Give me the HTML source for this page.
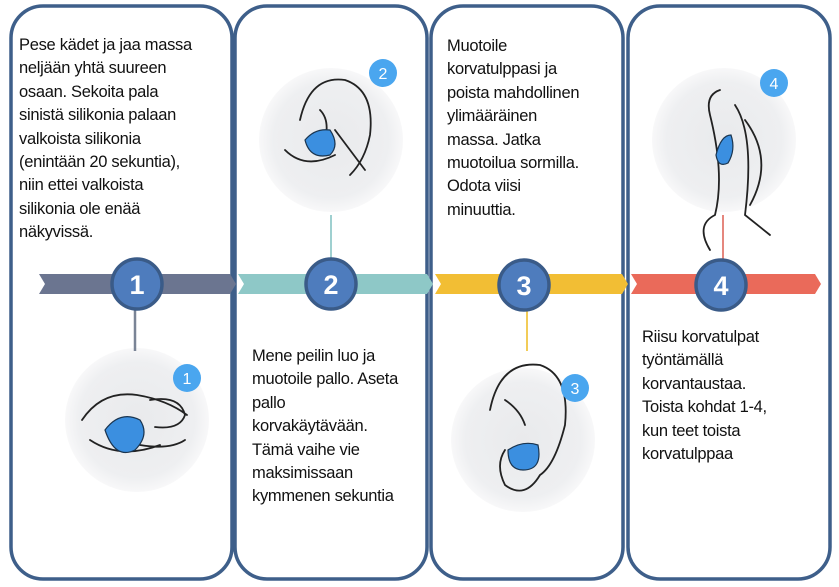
<!DOCTYPE html>
<html><head><meta charset="utf-8"><style>
body{margin:0;background:#fff;width:839px;height:587px;overflow:hidden;position:relative;font-family:"Liberation Sans",sans-serif}
.t{position:absolute;font-size:16.5px;line-height:23.4px;color:#111;letter-spacing:-0.3px;white-space:nowrap}
</style></head><body>
<svg width="839" height="587" style="position:absolute;left:0;top:0">
<defs>
<radialGradient id="g"><stop offset="0" stop-color="#e9eaec"/><stop offset="0.8" stop-color="#eeeff1"/><stop offset="1" stop-color="#f8f8f9"/></radialGradient>
</defs>
<g fill="none" stroke="#3e5f8a" stroke-width="3.5">
<rect x="11" y="6" width="221" height="573" rx="32"/>
<rect x="235" y="6" width="192" height="573" rx="32"/>
<rect x="431" y="6" width="192" height="573" rx="32"/>
<rect x="628" y="6" width="202" height="573" rx="32"/>
</g>
<circle cx="137" cy="420" r="72" fill="url(#g)"/>
<circle cx="331" cy="140" r="72" fill="url(#g)"/>
<circle cx="523" cy="440" r="72" fill="url(#g)"/>
<circle cx="724" cy="140" r="72" fill="url(#g)"/>
<g fill="none" stroke="#222" stroke-width="1.8" stroke-linecap="round">
<path d="M82 420 q20-30 55-25 q30 5 50 20 M90 440 q30 20 70 5 M150 400 q30-5 35 15 q-5 15-30 12 M140 445 q30 5 45-5"/>
<path d="M300 120 q10-45 45-40 q30 10 25 55 q-5 25-20 40 M285 150 q20 20 50 5 M335 130 l30 40 M320 110 q10 10 5 30"/>
<path d="M490 410 q10-50 50-45 q30 10 25 60 q-10 40-25 50 q-15 25-35 10 q-10-20 0-35 M505 400 q15 10 20 25"/>
<path d="M720 90 q-15 5-10 25 q15 60 5 100 q-20 10-5 35 M735 105 q20 30 10 110 l25 20 M745 120 q30 40 5 85"/>
</g>
<g fill="#3b8fe0" stroke="#1a3550" stroke-width="1.2">
<path d="M105 430 q15-20 35-10 q10 15-5 30 q-20 10-30-20z"/>
<path d="M305 140 q10-12 25-10 q10 15 0 25 q-20 5-25-15z"/>
<path d="M508 450 q15-10 30-5 q5 25-15 25 q-15 0-15-20z"/>
<path d="M716 155 q5-20 15-20 q5 15-3 28 q-10 5-12-8z"/>
</g>
<g fill="#4aa6ef"><circle cx="187" cy="378" r="14"/><circle cx="383" cy="73" r="14"/><circle cx="575" cy="388" r="14"/><circle cx="774" cy="83" r="14"/></g>
<g fill="#fff" font-family="Liberation Sans,sans-serif" font-size="16" text-anchor="middle">
<text x="187" y="384">1</text><text x="383" y="79">2</text><text x="575" y="394">3</text><text x="774" y="89">4</text></g>
<line x1="135" y1="300" x2="135" y2="351" stroke="#7a8496" stroke-width="2.5"/>
<line x1="331" y1="215" x2="331" y2="270" stroke="#9fd0d0" stroke-width="2"/>
<line x1="527" y1="300" x2="527" y2="351" stroke="#f2cc58" stroke-width="2"/>
<line x1="723" y1="215" x2="723" y2="270" stroke="#e5877e" stroke-width="2"/>
<polygon points="39,274 230,274 236,284 230,294 39,294 45,284" fill="#6b7590"/>
<polygon points="238,274 427,274 433,284 427,294 238,294 244,284" fill="#8ec8c7"/>
<polygon points="435,274 622,274 628,284 622,294 435,294 441,284" fill="#f2be34"/>
<polygon points="631,274 815,274 821,284 815,294 631,294 637,284" fill="#ea6a5a"/>
<g fill="#4e7cbd" stroke="#3a5b88" stroke-width="3.5">
<circle cx="137" cy="284" r="25"/><circle cx="331" cy="284" r="25"/><circle cx="524" cy="285" r="25"/><circle cx="721" cy="285" r="25"/></g>
<g fill="#fff" font-family="Liberation Sans,sans-serif" font-weight="bold" font-size="27" text-anchor="middle">
<text x="137" y="294">1</text><text x="331" y="294">2</text><text x="524" y="295">3</text><text x="721" y="295">4</text></g>
</svg>
<div class="t" style="left:19px;top:34px">Pese kädet ja jaa massa<br>neljään yhtä suureen<br>osaan. Sekoita pala<br>sinistä silikonia palaan<br>valkoista silikonia<br>(enintään 20 sekuntia),<br>niin ettei valkoista<br>silikonia ole enää<br>näkyvissä.</div>
<div class="t" style="left:252px;top:345px">Mene peilin luo ja<br>muotoile pallo. Aseta<br>pallo<br>korvakäytävään.<br>Tämä vaihe vie<br>maksimissaan<br>kymmenen sekuntia</div>
<div class="t" style="left:447px;top:35px">Muotoile<br>korvatulppasi ja<br>poista mahdollinen<br>ylimääräinen<br>massa. Jatka<br>muotoilua sormilla.<br>Odota viisi<br>minuuttia.</div>
<div class="t" style="left:642px;top:326px">Riisu korvatulpat<br>työntämällä<br>korvantaustaa.<br>Toista kohdat 1-4,<br>kun teet toista<br>korvatulppaa</div>
</body></html>
